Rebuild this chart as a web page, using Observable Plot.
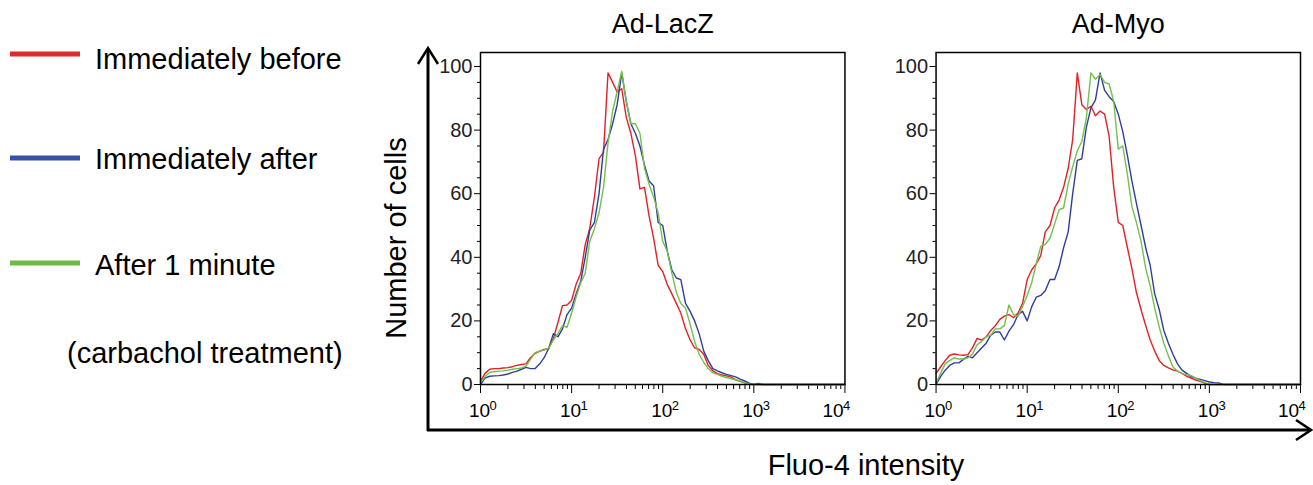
<!DOCTYPE html>
<html>
<head>
<meta charset="utf-8">
<script src="https://cdn.jsdelivr.net/npm/d3@7"></script>
<script src="https://cdn.jsdelivr.net/npm/@observablehq/plot@0.6"></script>
<style>
  body { margin: 0; background: #fff; }
  #wrap { position: relative; width: 1313px; height: 485px; }
</style>
</head>
<body>
<div id="wrap"></div>
<script>
// ---------- data ----------
const panels = ["Ad-LacZ", "Ad-Myo"];
const seriesNames = ["Immediately before", "Immediately after", "After 1 minute"];
const seriesColors = ["#e41f26", "#2f3e9e", "#74c04a"];
const legendColors = ["#dc2a2e", "#3a4fa6", "#6cbb46"];
const legendNote = "(carbachol treatment)";
const panelTitles = panels;
const yAxisTitle = "Number of cells";
const xAxisTitle = "Fluo-4 intensity";

const yTicks = [0, 20, 40, 60, 80, 100];
const yMinorTicks = [5, 10, 15, 25, 30, 35, 45, 50, 55, 65, 70, 75, 85, 90, 95];
const xTicks = [1, 10, 100, 1000, 10000];
const xTickBase = ["10", "10", "10", "10", "10"];
const xTickExponents = ["0", "1", "2", "3", "4"];
const xMinorTicks = [2, 3, 4, 5, 6, 7, 8, 9, 20, 30, 40, 50, 60, 70, 80, 90,
  200, 300, 400, 500, 600, 700, 800, 900, 2000, 3000, 4000, 5000, 6000, 7000, 8000, 9000];

// Fluo-4 intensity channels (shared by every histogram)
const intensity = [1, 1.12, 1.26, 1.41, 1.58, 1.78, 2, 2.24, 2.51, 2.82,
  3.16, 3.55, 3.98, 4.47, 5.01, 5.62, 6.31, 7.08, 7.94, 8.91,
  10, 11.2, 12.6, 14.1, 15.8, 17.8, 20, 22.4, 25.1, 28.2,
  31.6, 35.5, 39.8, 44.7, 50.1, 56.2, 63.1, 70.8, 79.4, 89.1,
  100, 112, 126, 141, 158, 178, 200, 224, 251, 282,
  316, 355, 398, 447, 501, 562, 631, 708, 794, 891,
  1000, 1122, 1259, 1413, 10000];

// Ad-LacZ (number of cells, % of max)
const laczBefore = [1, 3.5, 4.8, 5.0, 5.0, 5.2, 5.3, 5.6, 6.0, 6.3,
  6.5, 8.5, 9.8, 10.5, 11.0, 11.3, 14.5, 19.5, 24.8, 25.0,
  26.5, 31.5, 35, 44, 49, 59, 71, 73, 98, 95,
  92, 93, 84, 79, 72, 61.5, 62, 53, 46, 37.5,
  35.5, 31.5, 28.5, 25.5, 22.5, 17.5, 14, 11.5, 11, 9.5,
  6, 4.3, 3.4, 3, 2.7, 2.3, 1.5, 1, 0.5, 0.1,
  0, 0, 0, 0, 0];
const laczAfter = [0, 2.0, 2.6, 2.7, 2.8, 3.0, 3.3, 3.8, 4.2, 4.8,
  5.4, 5.0, 5.0, 6.5, 8.5, 11.5, 16, 15, 17.5, 22,
  24, 28.5, 32.5, 40, 48.5, 51, 60, 74, 77, 82,
  88, 98, 89, 82, 79, 75, 69, 64, 62.5, 51,
  50, 42, 36, 33.5, 33, 25.5, 23, 20, 16, 10.5,
  7.5, 5, 4.3, 3.7, 3.2, 2.8, 2.4, 1.7, 1.1, 0.4,
  0, 0.3, 0, 0, 0];
const lacz1min = [0.5, 2.5, 3.8, 4.0, 4.2, 4.3, 4.5, 4.8, 5.0, 5.2,
  5.8, 8.0, 10.0, 10.5, 10.8, 11.5, 14, 16, 18.5, 18,
  22.5, 27.5, 32, 35, 45, 49, 54, 62, 76, 86,
  92, 98.5, 89, 82, 82, 79, 68, 63, 59, 54,
  45, 42, 35, 29, 25.5, 24, 19, 13.5, 9.5, 7,
  5, 3.7, 3.2, 2.6, 2.2, 1.8, 1.5, 1.1, 0.6, 0.2,
  0, 0, 0, 0, 0];

// Ad-Myo
const myoBefore = [3.5, 5.5, 7.5, 9.2, 9.6, 9.3, 9.2, 9.4, 11.5, 14.5,
  14.0, 15.0, 17.0, 18.5, 20.5, 21.5, 22.0, 21.0, 22.5, 25.5,
  33, 36, 38, 40.5, 48, 50, 55.5, 58, 62, 68,
  77, 98, 88, 86.5, 87.5, 84.5, 86, 85, 78, 62,
  51, 50, 43, 36.5, 29, 23.5, 18.5, 14, 10.5, 7.5,
  6, 5.2, 4.6, 4.2, 3.5, 2.6, 2, 1.4, 1, 0.4,
  0, 0, 0, 0, 0];
const myoAfter = [0, 2.5, 4.5, 6.0, 6.8, 6.8, 7.9, 8.9, 8.4, 10.0,
  11.5, 13.0, 15.5, 16.5, 16.5, 14.0, 16.8, 18.8, 22, 23,
  20, 24.4, 27.5, 28, 29.5, 33, 33, 37, 43, 48,
  60, 70.5, 71, 81, 87, 89.5, 98, 92.5, 90.5, 89,
  85, 79.5, 72, 64, 57, 50, 43, 37.5, 28.5, 23.5,
  17, 13, 9.5, 6.5, 4.5, 3.5, 2.5, 2, 1.6, 1.2,
  0.8, 0.6, 0.5, 0, 0];
const myo1min = [0.5, 3.5, 6.5, 7.5, 8.4, 8.0, 8.0, 8.4, 9.5, 12.5,
  13.5, 15, 15.5, 17.5, 17.5, 18.5, 25, 22, 21.5, 24.5,
  28, 32, 38, 43.5, 44, 46, 50.5, 55, 55.5, 63,
  68.5, 73.5, 76.4, 84, 98, 96, 97.5, 95, 94.5, 89,
  74, 75, 66, 56, 51, 45, 36.5, 31, 24, 18,
  13, 9, 5.5, 4.2, 3.4, 3.1, 2.8, 2, 1.2, 0.6,
  0, 0, 0, 0, 0];

// ---------- table for Plot ----------
const panelSeries = {
  "Ad-LacZ": [laczBefore, laczAfter, lacz1min],
  "Ad-Myo": [myoBefore, myoAfter, myo1min]
};
const rows = [];
panels.forEach(p => panelSeries[p].forEach((vals, si) => vals.forEach((v, i) =>
  rows.push({panel: p, series: seriesNames[si], x: intensity[i], y: v}))));

const tickRows = xTicks.map((t, i) => ({x: t, base: xTickBase[i], exp: xTickExponents[i]}));
const innerTicks = tickRows.slice(0, 4);
const lastTick = tickRows.slice(4);

const FONT = '"Liberation Sans", Arial, Helvetica, sans-serif';

const chart = Plot.plot({
  width: 1313,
  height: 485,
  marginLeft: 480,
  marginRight: 13,
  marginTop: 52,
  marginBottom: 101,
  style: {fontFamily: FONT, background: "white", overflow: "visible", color: "black"},
  fx: {domain: panels, paddingInner: 0.2, paddingOuter: 0, round: false, axis: null, label: null},
  x: {type: "log", domain: [1, 10000]},
  y: {domain: [0, 104.4]},
  color: {domain: seriesNames, range: seriesColors},
  marks: [
    Plot.axisY({ticks: yMinorTicks, tickSize: 3, tickFormat: () => "", label: null, facetAnchor: null}),
    Plot.axisY({ticks: yTicks, tickSize: 6, tickPadding: 2, fontSize: 20, fill: "#222", label: null, facetAnchor: null}),
    Plot.axisX({ticks: xMinorTicks, tickSize: 5, tickFormat: () => "", label: null}),
    Plot.axisX({ticks: xTicks, tickSize: 9, tickFormat: () => "", label: null}),
    // tick labels 10^n, base + raised exponent
    Plot.text(innerTicks, {x: "x", text: "base", frameAnchor: "bottom", lineAnchor: "middle", dy: 26, dx: -1, fontSize: 19, fill: "black"}),
    Plot.text(innerTicks, {x: "x", text: "exp", frameAnchor: "bottom", lineAnchor: "middle", textAnchor: "start", dy: 21, dx: 9, fontSize: 13, fill: "black"}),
    Plot.text(lastTick, {x: "x", text: "base", frameAnchor: "bottom", lineAnchor: "middle", dy: 26, dx: -12, fontSize: 19, fill: "black"}),
    Plot.text(lastTick, {x: "x", text: "exp", frameAnchor: "bottom", lineAnchor: "middle", textAnchor: "start", dy: 21, dx: -2, fontSize: 13, fill: "black"}),
    Plot.line(rows, {fx: "panel", x: "x", y: "y", z: "series", stroke: "series", strokeWidth: 1.4}),
    Plot.frame({stroke: "black", strokeWidth: 1.5}),
    Plot.text(panelTitles, {fx: d => d, text: d => d, frameAnchor: "top", lineAnchor: "middle", dy: -28, fontSize: 27, fill: "black"})
  ]
});

// ---------- legend and outer arrow axes ----------
const svg = d3.select(chart);
const legendLineY = [54, 158, 263];
const legendTextY = [69, 169, 275];
const lg = svg.append("g").attr("font-family", FONT).attr("text-anchor", "start");
seriesNames.forEach((name, i) => {
  lg.append("line").attr("x1", 10).attr("x2", 80).attr("y1", legendLineY[i]).attr("y2", legendLineY[i])
    .attr("stroke", legendColors[i]).attr("stroke-width", 5);
  lg.append("text").attr("x", 95).attr("y", legendTextY[i]).attr("font-size", 29).attr("fill", "black").text(name);
});
lg.append("text").attr("x", 67).attr("y", 363).attr("font-size", 29).attr("fill", "black").text(legendNote);

const ax = svg.append("g").attr("stroke", "black").attr("stroke-width", 3).attr("fill", "none");
ax.append("path").attr("d", "M428,431V49");
ax.append("path").attr("d", "M418,64L428,48L438,64").attr("stroke-width", 2.5);
ax.append("path").attr("d", "M427,430H1310");
ax.append("path").attr("d", "M1296,420L1311,430L1296,440").attr("stroke-width", 2.5);

svg.append("text").attr("transform", "translate(406,238) rotate(-90)").attr("text-anchor", "middle")
  .attr("font-family", FONT).attr("font-size", 29).attr("fill", "black").text(yAxisTitle);
svg.append("text").attr("x", 866).attr("y", 475).attr("text-anchor", "middle")
  .attr("font-family", FONT).attr("font-size", 29).attr("fill", "black").text(xAxisTitle);

document.getElementById("wrap").append(chart);
</script>
</body>
</html>
